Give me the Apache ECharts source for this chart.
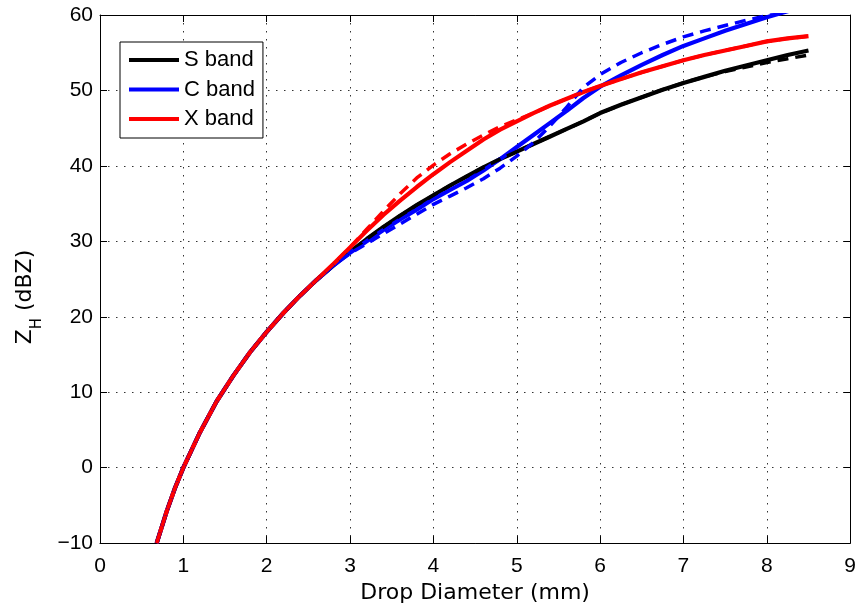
<!DOCTYPE html>
<html>
<head>
<meta charset="utf-8">
<script src="https://cdn.jsdelivr.net/npm/echarts@6/dist/echarts.min.js"></script>
<style>
html,body{margin:0;padding:0;background:#fff;}
#chart{width:859px;height:609px;}
</style>
</head>
<body>
<div id="chart"></div>
<script>
// Drop diameters (mm) shared by all curves
var diameters = [0.68, 0.8, 0.9, 1.0, 1.2, 1.4, 1.6, 1.8, 2.0, 2.2, 2.4, 2.6, 2.8, 3.0,
  3.2, 3.4, 3.6, 3.8, 4.0, 4.2, 4.4, 4.6, 4.8, 5.0, 5.2, 5.4, 5.6, 5.8, 6.0,
  6.25, 6.5, 6.75, 7.0, 7.25, 7.5, 7.75, 8.0, 8.25, 8.5];

// Z_H (dBZ) values
var sBandSolid = [-10.0, -5.8, -2.7, 0.0, 4.7, 8.8, 12.2, 15.3, 18.0, 20.5, 22.8, 24.9, 26.8, 28.6,
  30.3, 31.9, 33.4, 34.8, 36.1, 37.4, 38.6, 39.8, 40.9, 41.9, 42.9, 43.9, 44.9, 45.9, 47.0,
  48.1, 49.1, 50.1, 51.0, 51.8, 52.6, 53.3, 54.0, 54.7, 55.3];
var sBandDashed = [-10.0, -5.8, -2.7, 0.0, 4.7, 8.8, 12.2, 15.3, 18.0, 20.5, 22.8, 24.9, 26.8, 28.6,
  30.3, 31.9, 33.4, 34.8, 36.1, 37.4, 38.6, 39.8, 40.9, 41.9, 42.9, 43.9, 44.9, 45.9, 47.0,
  48.1, 49.1, 50.1, 51.0, 51.8, 52.5, 53.1, 53.7, 54.2, 54.7];
var cBandSolid = [-10.0, -5.8, -2.7, 0.0, 4.7, 8.8, 12.2, 15.3, 18.0, 20.5, 22.8, 24.9, 26.8, 28.5,
  30.0, 31.5, 32.9, 34.2, 35.6, 36.8, 38.0, 39.4, 40.9, 42.5, 44.1, 45.7, 47.3, 49.0, 50.5,
  52.0, 53.4, 54.7, 55.9, 56.9, 57.9, 58.8, 59.7, 60.5, 61.2];
var cBandDashed = [-10.0, -5.8, -2.7, 0.0, 4.7, 8.8, 12.2, 15.3, 18.0, 20.5, 22.8, 24.9, 26.8, 28.4,
  29.7, 31.0, 32.3, 33.6, 34.9, 36.0, 37.1, 38.3, 39.7, 41.3, 43.1, 45.3, 47.8, 50.4, 52.1,
  53.7, 55.0, 56.1, 57.1, 57.9, 58.6, 59.3, 59.9, 60.5, 61.2];
var xBandSolid = [-10.0, -5.8, -2.7, 0.0, 4.7, 8.8, 12.2, 15.3, 18.0, 20.5, 22.8, 24.9, 27.0, 29.2,
  31.4, 33.5, 35.4, 37.2, 38.9, 40.5, 42.0, 43.5, 44.8, 45.9, 47.0, 48.0, 48.9, 49.8, 50.6,
  51.5, 52.4, 53.2, 54.0, 54.7, 55.3, 55.9, 56.5, 56.9, 57.2];
var xBandDashed = [-10.0, -5.8, -2.7, 0.0, 4.7, 8.8, 12.2, 15.3, 18.0, 20.5, 22.8, 24.9, 27.0, 29.2,
  31.6, 34.0, 36.3, 38.4, 40.1, 41.6, 42.9, 44.1, 45.2, 46.1, 47.0, 48.0, 48.9, 49.8, 50.6,
  51.5, 52.4, 53.2, 54.0, 54.7, 55.3, 55.9, 56.5, 56.9, 57.2];

var xTicks = [0, 1, 2, 3, 4, 5, 6, 7, 8, 9];
var yTicks = [-10, 0, 10, 20, 30, 40, 50, 60];
var legendNames = ['S band', 'C band', 'X band'];

function pairs(vals) {
  return diameters.map(function (d, i) { return [d, vals[i]]; });
}

var FONT = '"Liberation Sans", Arial, Helvetica, sans-serif';
var TITLE_FONT = '"DejaVu Sans", "Liberation Sans", sans-serif';

function lineSeries(name, vals, color, dashed) {
  return {
    type: 'line',
    name: name,
    data: pairs(vals),
    xAxisIndex: 0,
    yAxisIndex: 0,
    showSymbol: false,
    symbol: 'none',
    smooth: false,
    clip: true,
    silent: true,
    lineStyle: {
      color: color,
      width: dashed ? 3.5 : 4.2,
      type: dashed ? [11, 7] : 'solid',
      cap: 'butt',
      join: 'round'
    },
    itemStyle: { color: color },
    emphasis: { disabled: true }
  };
}

var chart = echarts.init(document.getElementById('chart'), null, { renderer: 'canvas' });

var axisCommon = {
  type: 'value',
  axisLine: { show: true, onZero: false, lineStyle: { color: '#000', width: 1 } },
  axisTick: { show: true, inside: true, length: 7, lineStyle: { color: '#000', width: 1 } },
  splitLine: { show: false },
  minorTick: { show: false }
};

var option = {
  animation: false,
  backgroundColor: '#fff',
  grid: { left: 100, right: 7, top: 15, bottom: 62, containLabel: false, show: false },
  legend: {
    data: legendNames,
    orient: 'vertical',
    left: 120,
    top: 42,
    backgroundColor: '#fff',
    borderColor: '#000',
    borderWidth: 1,
    borderRadius: 0,
    padding: [7, 8, 8, 9],
    itemWidth: 50,
    itemHeight: 4,
    itemGap: 7.5,
    itemTextGap: 6,
    icon: 'rect',
    selectedMode: false,
    textStyle: { fontSize: 22, fontFamily: FONT, color: '#000' }
  },
  xAxis: [
    Object.assign({}, axisCommon, {
      position: 'bottom',
      min: xTicks[0], max: xTicks[xTicks.length - 1], interval: 1,
      name: 'Drop Diameter (mm)',
      nameLocation: 'middle',
      nameGap: 37,
      nameTextStyle: { fontSize: 22, fontFamily: TITLE_FONT, color: '#000' },
      axisLabel: { show: true, margin: 13, fontSize: 21, fontFamily: FONT, color: '#000' },
      splitLine: { show: true, lineStyle: { color: '#333', width: 1, type: [1.5, 6.5] } }
    }),
    Object.assign({}, axisCommon, {
      position: 'top',
      min: xTicks[0], max: xTicks[xTicks.length - 1], interval: 1,
      axisLabel: { show: false }
    })
  ],
  yAxis: [
    Object.assign({}, axisCommon, {
      position: 'left',
      min: yTicks[0], max: yTicks[yTicks.length - 1], interval: 10,
      name: '{z|Z}{h|H}{z| (dBZ)}',
      nameLocation: 'middle',
      nameRotate: 90,
      nameGap: 55,
      nameTextStyle: {
        color: '#000',
        padding: [0, 36, 0, 0],
        rich: {
          z: { fontSize: 22, fontFamily: TITLE_FONT, color: '#000', lineHeight: 40, verticalAlign: 'middle' },
          h: { fontSize: 15, fontFamily: TITLE_FONT, color: '#000', lineHeight: 15, verticalAlign: 'bottom' }
        }
      },
      axisLabel: {
        show: true, margin: 7, fontSize: 21, fontFamily: FONT, color: '#000',
        formatter: function (v) { return String(v).replace('-', '\u2212'); }
      },
      splitLine: { show: true, lineStyle: { color: '#333', width: 1, type: [1.5, 6.5] } }
    }),
    Object.assign({}, axisCommon, {
      position: 'right',
      min: yTicks[0], max: yTicks[yTicks.length - 1], interval: 10,
      axisLabel: { show: false }
    })
  ],
  series: [
    lineSeries('S band', sBandSolid, '#000000', false),
    lineSeries('C band', cBandSolid, '#0000ff', false),
    lineSeries('X band', xBandSolid, '#ff0000', false),
    lineSeries('S band (dashed)', sBandDashed, '#000000', true),
    lineSeries('C band (dashed)', cBandDashed, '#0000ff', true),
    lineSeries('X band (dashed)', xBandDashed, '#ff0000', true)
  ]
};

chart.setOption(option);
</script>
</body>
</html>
